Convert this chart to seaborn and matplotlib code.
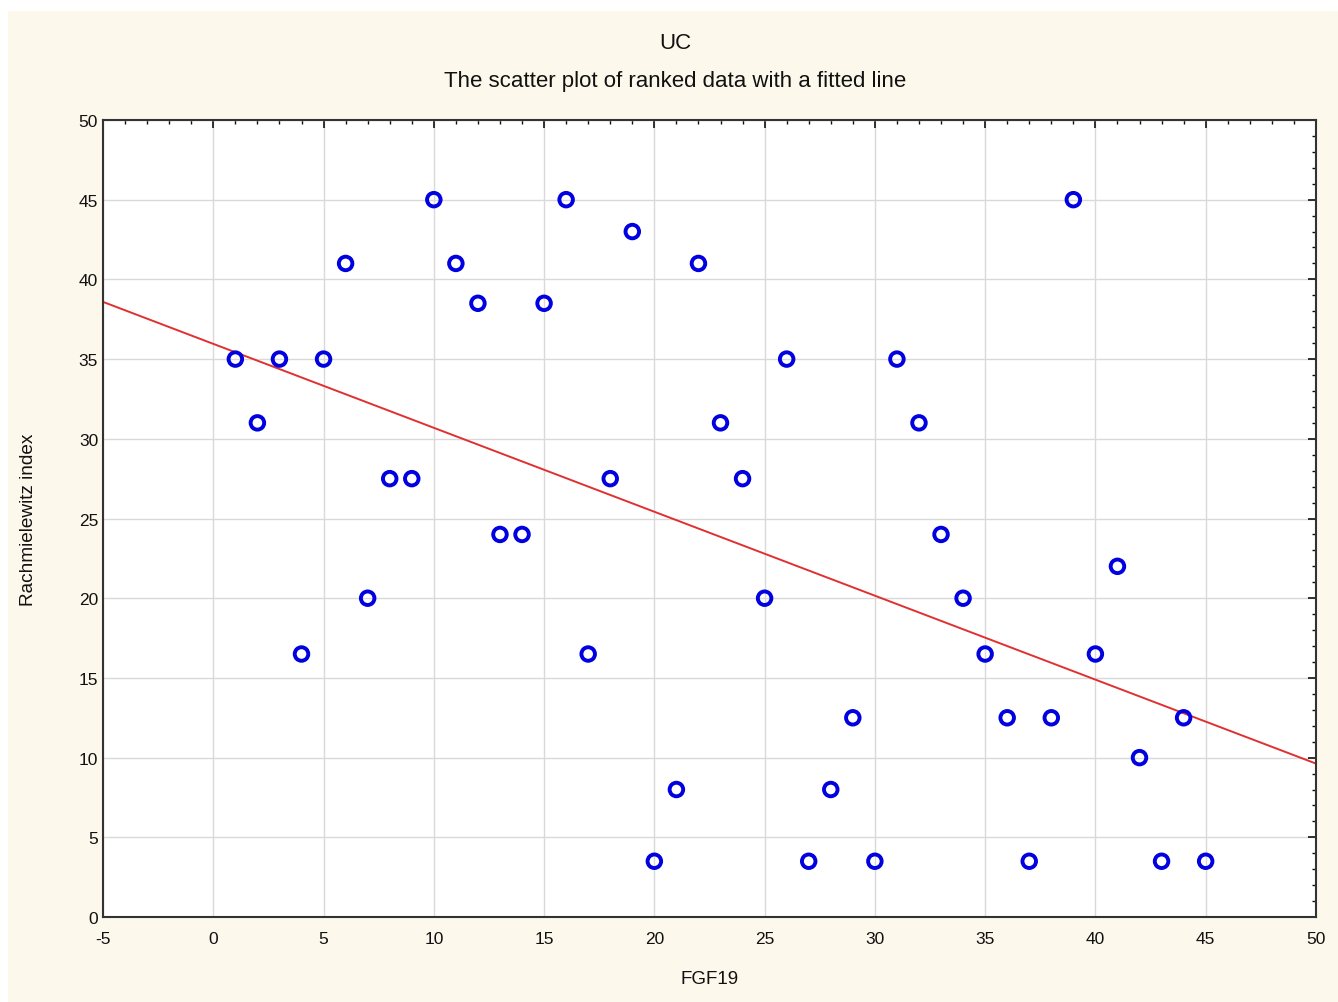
import matplotlib
matplotlib.use("Agg")
import matplotlib.pyplot as plt
import seaborn as sns
import pandas as pd
from matplotlib.ticker import MultipleLocator
from matplotlib.patches import Rectangle

fgf19_rank = list(range(1, 46))
rachmielewitz = [35, 31, 35, 16.5, 35, 41, 20, 27.5, 27.5, 45,
                 41, 38.5, 24, 24, 38.5, 45, 16.5, 27.5, 43, 3.5,
                 8, 41, 31, 27.5, 20, 35, 3.5, 8, 12.5, 3.5,
                 35, 31, 24, 20, 16.5, 12.5, 3.5, 12.5, 45, 16.5,
                 22, 10, 3.5, 12.5, 3.5]
x_ticks = [-5, 0, 5, 10, 15, 20, 25, 30, 35, 40, 45, 50]
y_ticks = [0, 5, 10, 15, 20, 25, 30, 35, 40, 45, 50]

df = pd.DataFrame({"FGF19": fgf19_rank, "Rachmielewitz index": rachmielewitz})

sns.set_theme(style="white")
plt.rcParams['font.family'] = ['Liberation Sans', 'DejaVu Sans']
plt.rcParams['axes.unicode_minus'] = False

cream = "#fdf8ec"
fig = plt.figure(figsize=(13.38, 10.03), dpi=100, facecolor="white")
# cream panel (white strip at top and left as in the reference)
fig.patches.append(Rectangle((8 / 1338, 0), 1 - 8 / 1338, 1 - 12 / 1003,
                             transform=fig.transFigure, facecolor=cream,
                             edgecolor="none", zorder=-10))
ax = fig.add_axes([0.077, 0.0847, 0.9065, 0.7947])
ax.set_facecolor("white")
ax.set_xlim(-5, 50)
ax.set_ylim(0, 50)

sns.regplot(data=df, x="FGF19", y="Rachmielewitz index", ax=ax, ci=None,
            truncate=False,
            scatter_kws=dict(s=95, facecolors="none", edgecolors="#0000e0",
                             linewidths=2.8, alpha=1, zorder=3),
            line_kws=dict(color="#e03030", linewidth=1.4, zorder=2))

ax.set_xticks(x_ticks)
ax.set_yticks(y_ticks)
ax.xaxis.set_minor_locator(MultipleLocator(1))
ax.yaxis.set_minor_locator(MultipleLocator(1))
ax.tick_params(which="both", direction="in", top=True, right=True,
               labelsize=12.5, colors="#111111")
ax.tick_params(which="major", length=6, width=1.2)
ax.tick_params(which="minor", length=3, width=1.0)
ax.tick_params(axis="x", pad=10)
ax.grid(True, which="major", color="#d9d9d9", linewidth=1.0)
ax.set_axisbelow(True)
for sp in ax.spines.values():
    sp.set_color("#333333")
    sp.set_linewidth(1.5)

ax.set_xlabel("FGF19", fontsize=13.5, labelpad=17, color="#111111")
ax.set_ylabel("Rachmielewitz index", fontsize=13.7, labelpad=30, color="#111111")

fig.text(0.5048, 0.957, "UC", ha="center", va="center", fontsize=16, color="#111111")
fig.text(0.5048, 0.919, "The scatter plot of ranked data with a fitted line",
         ha="center", va="center", fontsize=16, color="#111111")

fig.savefig("out.png", dpi=100, facecolor=fig.get_facecolor())
